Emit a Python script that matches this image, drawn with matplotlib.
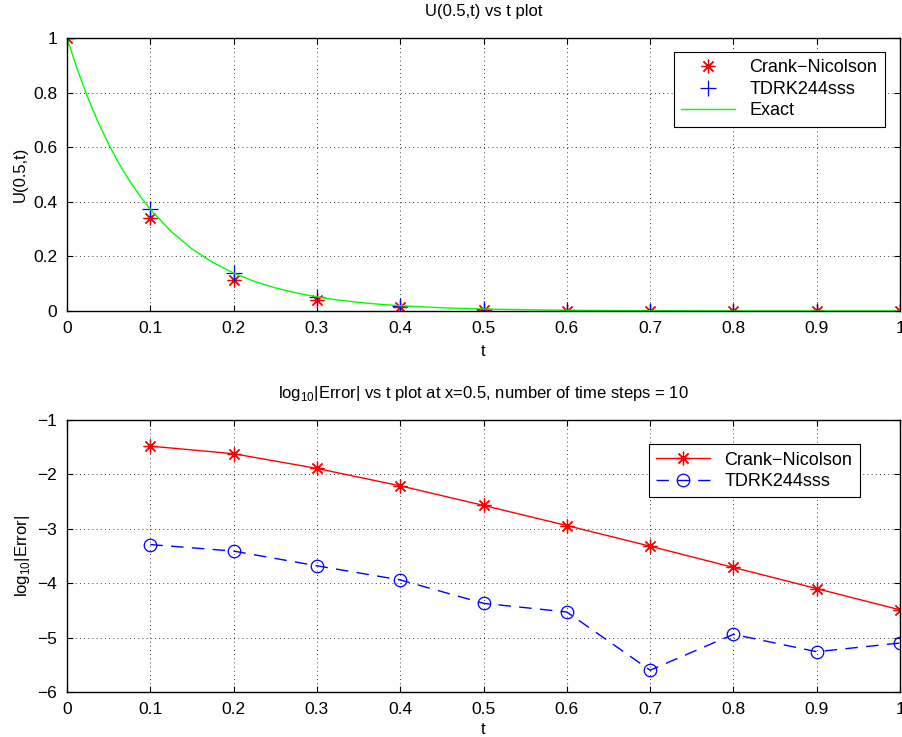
import matplotlib
matplotlib.use("Agg")
import matplotlib.pyplot as plt
from matplotlib.ticker import FuncFormatter

plt.rcParams["font.family"] = ["Liberation Sans", "DejaVu Sans"]
plt.rcParams["font.size"] = 12
plt.rcParams["mathtext.fontset"] = "custom"
plt.rcParams["mathtext.rm"] = "Liberation Sans"

# time levels
t = [0.0, 0.1, 0.2, 0.3, 0.4, 0.5, 0.6, 0.7, 0.8, 0.9, 1.0]
u_cn = [1.0, 0.340, 0.115, 0.039, 0.0133, 0.0045, 0.0015, 0.0005, 0.0002, 0.0001, 0.0]
u_tdrk = [1.0, 0.373, 0.139, 0.052, 0.0193, 0.0072, 0.0027, 0.0010, 0.0004, 0.0001, 0.0001]

# exact solution sampled finely
t_exact = [0.0, 0.0125, 0.025, 0.0375, 0.05, 0.0625, 0.075, 0.0875, 0.1, 0.125,
           0.15, 0.175, 0.2, 0.225, 0.25, 0.275, 0.3, 0.325, 0.35, 0.375, 0.4,
           0.45, 0.5, 0.6, 0.7, 0.8, 0.9, 1.0]
u_exact = [1.0, 0.8839, 0.7813, 0.6907, 0.6105, 0.5396, 0.4770, 0.4216, 0.3727,
           0.2912, 0.2275, 0.1778, 0.1389, 0.1085, 0.0848, 0.0663, 0.0518,
           0.0404, 0.0316, 0.0247, 0.0193, 0.0118, 0.0072, 0.0027, 0.0010,
           0.0004, 0.0001, 0.0001]

# log10 |error|
t_err = [0.1, 0.2, 0.3, 0.4, 0.5, 0.6, 0.7, 0.8, 0.9, 1.0]
err_cn = [-1.48, -1.62, -1.89, -2.21, -2.57, -2.94, -3.32, -3.71, -4.10, -4.49]
err_tdrk = [-3.29, -3.41, -3.68, -3.94, -4.37, -4.53, -5.60, -4.94, -5.26, -5.10]

ast = (8, 2, 0)
fmt = FuncFormatter(lambda v, p: f"{v:g}".replace("-", "\u2212"))


def matlab_style(ax):
    ax.grid(True, linestyle=(0, (1, 4)), color="black", linewidth=0.6)
    ax.tick_params(direction="in", top=True, right=True, length=4, width=0.8,
                   labelsize=12.5, pad=7)
    ax.xaxis.set_major_formatter(fmt)
    ax.yaxis.set_major_formatter(fmt)
    for s in ax.spines.values():
        s.set_linewidth(1.0)


fig = plt.figure(figsize=(9.02, 7.37), dpi=100)
ax1 = fig.add_axes([0.0743, 0.578, 0.9235, 0.3704])
ax2 = fig.add_axes([0.0743, 0.0611, 0.9235, 0.369])

ax1.plot(t, u_cn, linestyle="none", marker=ast, color="red", markersize=10,
         markeredgewidth=0.9, label="Crank\u2212Nicolson")
ax1.plot(t, u_tdrk, linestyle="none", marker="+", color="blue", markersize=11,
         markeredgewidth=0.9, label="TDRK244sss")
ax1.plot(t_exact, u_exact, color="#00ff00", linewidth=1.0, label="Exact")
ax1.set_xlim(0, 1)
ax1.set_ylim(0, 1)
ax1.set_xticks([0, 0.1, 0.2, 0.3, 0.4, 0.5, 0.6, 0.7, 0.8, 0.9, 1])
ax1.set_yticks([0, 0.2, 0.4, 0.6, 0.8, 1])
ax1.set_xlabel("t", labelpad=6)
ax1.set_ylabel("U(0.5,t)", labelpad=4)
ax1.set_title("U(0.5,t) vs t plot", fontsize=12, pad=16)
matlab_style(ax1)
leg1 = ax1.legend(loc="upper right", bbox_to_anchor=(0.988, 0.968), fancybox=False,
                  edgecolor="black", framealpha=1, handlelength=3.0,
                  borderaxespad=0.3, labelspacing=0.25, fontsize=13)
leg1.get_frame().set_linewidth(0.8)

ax2.plot(t_err, err_cn, color="red", marker=ast, markersize=10,
         markeredgewidth=0.9, linewidth=1.0, label="Crank\u2212Nicolson")
ax2.plot(t_err, err_tdrk, color="blue", marker="o", markersize=9,
         markerfacecolor="none", markeredgewidth=0.9, linewidth=1.0,
         linestyle=(0, (9, 6)), label="TDRK244sss")
ax2.set_xlim(0, 1)
ax2.set_ylim(-6, -1)
ax2.set_xticks([0, 0.1, 0.2, 0.3, 0.4, 0.5, 0.6, 0.7, 0.8, 0.9, 1])
ax2.set_yticks([-6, -5, -4, -3, -2, -1])
ax2.set_xlabel("t", labelpad=4)
ax2.set_ylabel(r"log$_{10}$|Error|", labelpad=4)
ax2.set_title(r"log$_{10}$|Error| vs t plot at x=0.5, number of time steps = 10",
              fontsize=12, pad=16)
matlab_style(ax2)
leg2 = ax2.legend(loc="upper right", bbox_to_anchor=(0.958, 0.93), fancybox=False,
                  edgecolor="black", framealpha=1, handlelength=3.0,
                  borderaxespad=0.3, labelspacing=0.25, fontsize=13)
leg2.get_frame().set_linewidth(0.8)

fig.savefig("out.png", dpi=100)
